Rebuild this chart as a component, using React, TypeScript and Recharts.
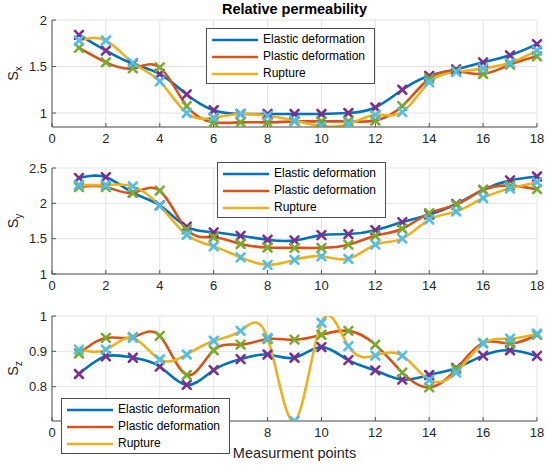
import React from 'react';
import { LineChart, Line, XAxis, YAxis, CartesianGrid, Legend, Label } from 'recharts';

const FONT = '"Liberation Sans", Arial, Helvetica, sans-serif';

const points = [1, 2, 3, 4, 5, 6, 7, 8, 9, 10, 11, 12, 13, 14, 15, 16, 17, 18];
const xTicks = [0, 2, 4, 6, 8, 10, 12, 14, 16, 18];

const sxElastic = [1.84, 1.67, 1.53, 1.42, 1.2, 1.03, 0.99, 0.99, 0.99, 0.99, 1.0, 1.06, 1.25, 1.4, 1.47, 1.545, 1.62, 1.74];
const sxPlastic = [1.7, 1.545, 1.48, 1.49, 1.075, 0.9, 0.9, 0.9, 0.91, 0.91, 0.91, 0.92, 1.075, 1.37, 1.45, 1.42, 1.52, 1.61];
const sxRupture = [1.78, 1.78, 1.54, 1.34, 1.0, 0.95, 0.99, 0.97, 0.92, 0.86, 0.88, 0.98, 1.01, 1.33, 1.44, 1.48, 1.54, 1.67];

const syElastic = [2.36, 2.37, 2.15, 1.97, 1.67, 1.59, 1.54, 1.485, 1.475, 1.55, 1.565, 1.62, 1.735, 1.84, 1.99, 2.19, 2.325, 2.38];
const syPlastic = [2.23, 2.23, 2.15, 2.18, 1.63, 1.52, 1.425, 1.375, 1.37, 1.37, 1.415, 1.54, 1.64, 1.86, 1.98, 2.19, 2.25, 2.2];
const syRupture = [2.26, 2.26, 2.24, 1.965, 1.555, 1.39, 1.235, 1.13, 1.2, 1.25, 1.215, 1.415, 1.5, 1.77, 1.885, 2.075, 2.21, 2.3];

const szElastic = [0.836, 0.886, 0.882, 0.857, 0.805, 0.847, 0.878, 0.891, 0.882, 0.912, 0.875, 0.846, 0.82, 0.833, 0.853, 0.888, 0.903, 0.887];
const szPlastic = [0.894, 0.938, 0.94, 0.944, 0.833, 0.903, 0.919, 0.935, 0.933, 0.947, 0.958, 0.919, 0.84, 0.798, 0.85, 0.924, 0.922, 0.947];
const szRupture = [0.905, 0.905, 0.938, 0.877, 0.891, 0.93, 0.958, 0.938, 0.703, 0.981, 0.915, 0.888, 0.888, 0.819, 0.84, 0.922, 0.936, 0.95];

const seriesNames = ['Elastic deformation', 'Plastic deformation', 'Rupture'];
const lineColors = ['#0072BD', '#D95319', '#EDB120'];
const markerColors = ['#7E2F8E', '#77AC30', '#4DBEEE'];
const keys = ['elastic', 'plastic', 'rupture'];

function buildRows(a: number[], b: number[], c: number[]) {
    return points.map((x, i) => ({ x, elastic: a[i], plastic: b[i], rupture: c[i] }));
}

// X-shaped marker like MATLAB's 'x'
const xMark = (color: string) => (props: any) => {
    const { cx, cy, index } = props;
    if (cx == null || cy == null) return <g key={`e-${index}`} />;
    const r = 4;
    return (
        <path
            key={`m-${color}-${index}`}
            d={`M${cx - r},${cy - r}L${cx + r},${cy + r}M${cx - r},${cy + r}L${cx + r},${cy - r}`}
            stroke={color}
            strokeWidth={2.6}
            strokeLinecap="round"
            fill="none"
        />
    );
};

const LegendBox = () => (
    <div style={{
        boxSizing: 'border-box', width: 169, height: 56, border: '1px solid #4d4d4d',
        background: '#fff', padding: '2px 5px', fontFamily: FONT,
    }}>
        {seriesNames.map((name, i) => (
            <div key={name} style={{ display: 'flex', alignItems: 'center', height: 17 }}>
                <svg width={46} height={6} style={{ display: 'block' }}>
                    <line x1={0} y1={3} x2={46} y2={3} stroke={lineColors[i]} strokeWidth={2.6} />
                </svg>
                <span style={{ marginLeft: 5, fontSize: 12, color: '#000', lineHeight: '17px' }}>{name}</span>
            </div>
        ))}
    </div>
);

const YLab = ({ viewBox, sub }: any) => {
    const cy = viewBox.y + viewBox.height / 2;
    const x = 18;
    return (
        <text x={x} y={cy} transform={`rotate(-90, ${x}, ${cy})`} textAnchor="middle"
            fontSize={14.5} fill="#262626" fontFamily={FONT}>
            S<tspan dy={4} fontSize={10}>{sub}</tspan>
        </text>
    );
};

const XLab = ({ viewBox }: any) => (
    <text x={viewBox.x + viewBox.width / 2} y={viewBox.y + 37} textAnchor="middle"
        fontSize={14.5} fill="#262626" fontFamily={FONT}>
        Measurment points
    </text>
);

interface PanelProps {
    top: number;
    height: number;
    margin: { top: number; right: number; bottom: number; left: number };
    rows: any[];
    yDomain: [number, number];
    yTicks: number[];
    sub: string;
    legendLeft: number;
    legendTop: number;
    xAxisHeight: number;
    xLabel?: boolean;
}

const tickStyle = { fontSize: 13, fill: '#262626', fontFamily: FONT };
const axisColor = '#555';

function Panel(p: PanelProps) {
    return (
        <div style={{ position: 'absolute', left: 0, top: p.top }}>
            <LineChart width={550} height={p.height} data={p.rows} margin={p.margin}>
                <CartesianGrid stroke="#e3e3e3" strokeWidth={1} />
                <XAxis
                    dataKey="x" type="number" domain={[0, 18]} ticks={xTicks}
                    height={p.xAxisHeight} tick={tickStyle} tickSize={-4} tickMargin={11}
                    stroke={axisColor} tickLine={{ stroke: axisColor }}
                >
                    {p.xLabel && <Label content={<XLab />} />}
                </XAxis>
                <XAxis
                    xAxisId="top" orientation="top" type="number" domain={[0, 18]} ticks={xTicks}
                    height={0} tick={false} tickSize={-4} stroke={axisColor}
                />
                <YAxis
                    type="number" domain={p.yDomain} ticks={p.yTicks} allowDataOverflow
                    width={52} tick={tickStyle} tickSize={-4} tickMargin={9}
                    stroke={axisColor} tickLine={{ stroke: axisColor }}
                >
                    <Label content={<YLab sub={p.sub} />} />
                </YAxis>
                <YAxis
                    yAxisId="right" orientation="right" type="number" domain={p.yDomain} ticks={p.yTicks}
                    width={0} tick={false} tickSize={-4} stroke={axisColor}
                />
                {keys.map((k, i) => (
                    <Line
                        key={k} type="natural" dataKey={k} name={seriesNames[i]}
                        stroke={lineColors[i]} strokeWidth={2.6} dot={false} activeDot={false}
                        isAnimationActive={false}
                    />
                ))}
                {keys.map((k, i) => (
                    <Line
                        key={`${k}-m`} type="natural" dataKey={k} stroke="none" legendType="none"
                        dot={xMark(markerColors[i])} activeDot={false} isAnimationActive={false}
                    />
                ))}
                <Legend
                    layout="vertical" align="center" verticalAlign="middle"
                    content={<LegendBox />}
                    wrapperStyle={{ left: p.legendLeft, top: p.legendTop, width: 'auto', height: 'auto' }}
                />
            </LineChart>
        </div>
    );
}

export default function App() {
    return (
        <div style={{ position: 'absolute', left: 0, top: 0, width: 550, height: 467, background: '#fff', fontFamily: FONT }}>
            <Panel
                top={0} height={148} margin={{ top: 20, right: 13, bottom: 1, left: 0 }}
                rows={buildRows(sxElastic, sxPlastic, sxRupture)}
                yDomain={[0.85, 2]} yTicks={[1, 1.5, 2]} sub="x"
                legendLeft={206} legendTop={28} xAxisHeight={20}
            />
            <Panel
                top={148} height={148} margin={{ top: 20, right: 13, bottom: 2, left: 0 }}
                rows={buildRows(syElastic, syPlastic, syRupture)}
                yDomain={[1, 2.5]} yTicks={[1, 1.5, 2, 2.5]} sub="y"
                legendLeft={217} legendTop={14} xAxisHeight={20}
            />
            <Panel
                top={296} height={171} margin={{ top: 20, right: 13, bottom: 6, left: 0 }}
                rows={buildRows(szElastic, szPlastic, szRupture)}
                yDomain={[0.703, 1]} yTicks={[0.8, 0.9, 1]} sub="z"
                legendLeft={61} legendTop={102} xAxisHeight={40} xLabel
            />
            <div style={{
                position: 'absolute', left: 52, top: 0, width: 485, textAlign: 'center',
                fontSize: 14.5, fontWeight: 'bold', lineHeight: '18px', color: '#000',
            }}>
                Relative permeability
            </div>
        </div>
    );
}
